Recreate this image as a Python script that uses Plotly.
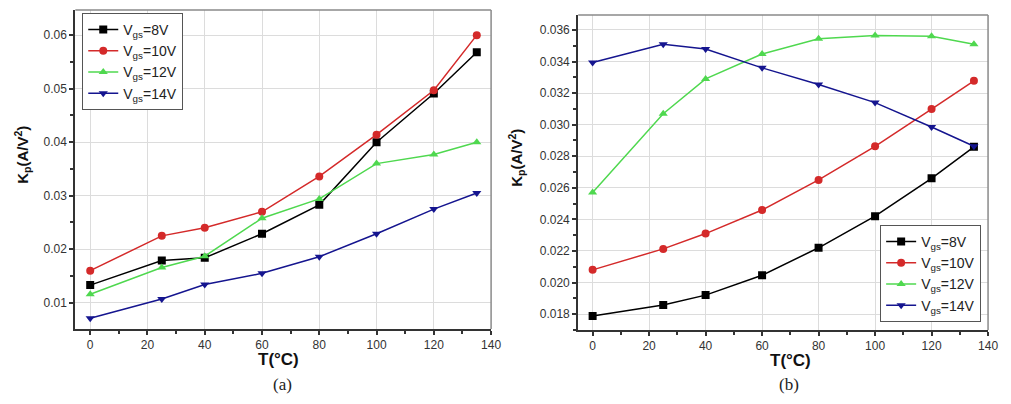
import plotly.graph_objects as go

temps = [0, 25, 40, 60, 80, 100, 120, 135]

# Panel (a)
a_8v = [0.0133, 0.0179, 0.0184, 0.0229, 0.0283, 0.0400, 0.0491, 0.0568]
a_10v = [0.0160, 0.0225, 0.0240, 0.0270, 0.0336, 0.0414, 0.0497, 0.0600]
a_12v = [0.0116, 0.0166, 0.0187, 0.0258, 0.0294, 0.0360, 0.0377, 0.0400]
a_14v = [0.0071, 0.0107, 0.0134, 0.0155, 0.0186, 0.0229, 0.0275, 0.0305]

# Panel (b)
b_8v = [0.01787, 0.01857, 0.0192, 0.02046, 0.0222, 0.0242, 0.0266, 0.0286]
b_10v = [0.0208, 0.02213, 0.0231, 0.02459, 0.02650, 0.02863, 0.03099, 0.03278]
b_12v = [0.0257, 0.03069, 0.0329, 0.03448, 0.03545, 0.03565, 0.03560, 0.0351]
b_14v = [0.03394, 0.0351, 0.0348, 0.03360, 0.03255, 0.03140, 0.02985, 0.02863]

names = ["V<sub>gs</sub>=8V", "V<sub>gs</sub>=10V", "V<sub>gs</sub>=12V", "V<sub>gs</sub>=14V"]
colors = ["#000000", "#d42a2a", "#4fd84f", "#15158f"]
symbols = ["square", "circle", "triangle-up", "triangle-down"]

# page body has an 8px default margin; size the figure to fit the window
OFF = 8
W, H = 1011 - 2 * OFF, 404 - 2 * OFF


def px(x):
    return (x - OFF) / W


def py(y):
    return 1 - (y - OFF) / H


fig = go.Figure()
for vals, nm, c, s in zip([a_8v, a_10v, a_12v, a_14v], names, colors, symbols):
    fig.add_trace(go.Scatter(x=temps, y=vals, name=nm, mode="lines+markers",
                             line=dict(color=c, width=1.5),
                             marker=dict(color=c, symbol=s, size=8),
                             xaxis="x", yaxis="y", legend="legend"))
for vals, nm, c, s in zip([b_8v, b_10v, b_12v, b_14v], names, colors, symbols):
    fig.add_trace(go.Scatter(x=temps, y=vals, name=nm, mode="lines+markers",
                             line=dict(color=c, width=1.5),
                             marker=dict(color=c, symbol=s, size=8),
                             xaxis="x2", yaxis="y2", legend="legend2"))

tickfont = dict(family="Liberation Sans, Arial", size=12, color="#333333")
axcommon = dict(showgrid=True, gridcolor="#dcdcdc", gridwidth=1, zeroline=False,
                showline=True, linecolor="#333333", linewidth=2,
                ticks="outside", ticklen=4, tickwidth=1.5, tickcolor="#333333",
                tickfont=tickfont)
minor_x = dict(dtick=10, ticks="outside", ticklen=3, tickcolor="#333333", showgrid=False)

fig.update_layout(
    width=W, height=H,
    margin=dict(l=0, r=0, t=0, b=0),
    paper_bgcolor="white", plot_bgcolor="white",
    xaxis=dict(domain=[px(76), px(496)], range=[-5.2, 140], dtick=20, anchor="y",
               minor=minor_x, **axcommon),
    yaxis=dict(domain=[py(329), py(10)], range=[0.0051, 0.0647], dtick=0.01, tickformat=".2f",
               anchor="x",
               minor=dict(dtick=0.005, ticks="outside", ticklen=3, tickcolor="#333333", showgrid=False),
               **axcommon),
    xaxis2=dict(domain=[px(584), px(998)], range=[-5.1, 140], dtick=20, anchor="y2",
                minor=minor_x, **axcommon),
    yaxis2=dict(domain=[py(330), py(15)], range=[0.01699, 0.03695], dtick=0.002, tickformat=".3f",
                anchor="x2",
                minor=dict(dtick=0.001, ticks="outside", ticklen=3, tickcolor="#333333", showgrid=False),
                **axcommon),
    legend=dict(x=px(83), y=py(13), xanchor="left", yanchor="top",
                bgcolor="white", bordercolor="#555555", borderwidth=1,
                font=dict(family="Liberation Sans, Arial", size=14, color="#222222"),
                tracegroupgap=0, itemwidth=30),
    legend2=dict(x=px(889), y=py(225), xanchor="left", yanchor="top",
                 bgcolor="white", bordercolor="#555555", borderwidth=1,
                 font=dict(family="Liberation Sans, Arial", size=14, color="#222222"),
                 tracegroupgap=0, itemwidth=30),
    showlegend=True,
)

# gray top/right frame lines
for xr, yr in [("x domain", "y domain"), ("x2 domain", "y2 domain")]:
    fig.add_shape(type="line", xref=xr, yref=yr, x0=0, x1=1, y0=1, y1=1,
                  line=dict(color="#8a8a8a", width=1.5))
    fig.add_shape(type="line", xref=xr, yref=yr, x0=1, x1=1, y0=0, y1=1,
                  line=dict(color="#8a8a8a", width=1.5))

titlefont = dict(family="Liberation Sans, Arial", size=17, color="#111111")
ylabfont = dict(family="Liberation Sans, Arial", size=15, color="#111111")
capfont = dict(family="Liberation Serif, Times New Roman", size=17, color="#222222")
anns = [
    dict(x=281, y=359, text="<b>T(°C)</b>", font=titlefont),
    dict(x=285, y=384, text="(a)", font=capfont),
    dict(x=798, y=360, text="<b>T(°C)</b>", font=titlefont),
    dict(x=797, y=384, text="(b)", font=capfont),
    dict(x=22, y=155, text="<b>K<sub>p</sub>(A/V<sup>2</sup>)</b>", font=ylabfont, textangle=-90),
    dict(x=522, y=158, text="<b>K<sub>p</sub>(A/V<sup>2</sup>)</b>", font=ylabfont, textangle=-90),
]
for a in anns:
    fig.add_annotation(x=px(a["x"]), y=py(a["y"]), xref="paper", yref="paper",
                       text=a["text"], font=a["font"], showarrow=False,
                       textangle=a.get("textangle", 0), xanchor="center", yanchor="middle")

fig.write_html("out.html")
